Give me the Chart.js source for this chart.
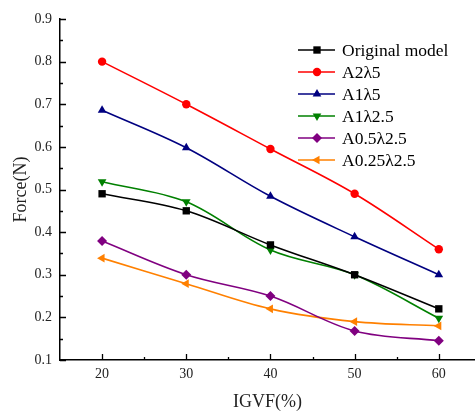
<!DOCTYPE html>
<html>
<head>
<meta charset="utf-8">
<script src="https://cdn.jsdelivr.net/npm/chart.js@4/dist/chart.umd.min.js"></script>
<style>
  html, body { margin: 0; padding: 0; background: #fff; overflow: hidden; }
  #wrap { width: 475px; height: 413px; position: relative; }
</style>
</head>
<body>
<div id="wrap"><canvas id="grafico"></canvas></div>
<script>
// IGVF (%) on the x axis
const igvf = [20, 30, 40, 50, 60];
const xTicks = [20, 30, 40, 50, 60];
const yTicks = [0.1, 0.2, 0.3, 0.4, 0.5, 0.6, 0.7, 0.8, 0.9];

// Force (N) per model
const originalModel = [0.49, 0.45, 0.37, 0.30, 0.22];
const a2l5 = [0.80, 0.70, 0.595, 0.49, 0.36];
const a1l5 = [0.686, 0.598, 0.484, 0.389, 0.30];
const a1l25 = [0.518, 0.471, 0.358, 0.30, 0.198];
const a05l25 = [0.379, 0.30, 0.25, 0.168, 0.145];
const a025l25 = [0.339, 0.279, 0.22, 0.19, 0.18];

const serif = '"Times New Roman", "Liberation Serif", serif';

function serie(label, values, color, style, rotation, radius) {
  return {
    label: label,
    data: values.map((v, i) => ({ x: igvf[i], y: v })),
    borderColor: color,
    backgroundColor: color,
    borderWidth: 1.6,
    pointStyle: style,
    rotation: rotation,
    pointRadius: radius,
    pointHoverRadius: radius,
    pointBorderWidth: 0,
    tension: 0.35
  };
}

const series = [
  serie('Original model', originalModel, '#000000', 'rect', 0, 5.2),
  serie('A2λ5', a2l5, '#ff0000', 'circle', 0, 4.2),
  serie('A1λ5', a1l5, '#000080', 'triangle', 0, 5),
  serie('A1λ2.5', a1l25, '#008000', 'triangle', 180, 5),
  serie('A0.5λ2.5', a05l25, '#800080', 'rectRot', 0, 5),
  serie('A0.25λ2.5', a025l25, '#ff8000', 'triangle', 270, 5)
];

// inward tick marks (major + minor)
const tickMarks = {
  id: 'tickMarks',
  afterDraw(chart) {
    const { ctx, chartArea, scales } = chart;
    ctx.save();
    ctx.strokeStyle = '#000';
    ctx.lineWidth = 1.3;
    ctx.beginPath();
    for (let v = 20; v <= 60; v += 5) {
      const x = Math.round(scales.x.getPixelForValue(v)) + 0.5;
      const len = v % 10 === 0 ? 6 : 3;
      ctx.moveTo(x, chartArea.bottom);
      ctx.lineTo(x, chartArea.bottom - len);
    }
    for (let i = 0; i <= 16; i++) {
      const v = 0.1 + i * 0.05;
      const y = Math.round(scales.y.getPixelForValue(v)) + 0.5;
      const len = i % 2 === 0 ? 6 : 3;
      ctx.moveTo(chartArea.left, y);
      ctx.lineTo(chartArea.left + len, y);
    }
    ctx.stroke();
    ctx.restore();
  }
};

// legend with line + marker, top right
const legendaLinhas = {
  id: 'legendaLinhas',
  afterDraw(chart) {
    const ctx = chart.ctx;
    ctx.save();
    ctx.font = '17.5px ' + serif;
    ctx.textBaseline = 'middle';
    chart.data.datasets.forEach((ds, i) => {
      const y = 50 + i * 22;
      ctx.strokeStyle = ds.borderColor;
      ctx.fillStyle = ds.backgroundColor;
      ctx.lineWidth = 1.6;
      ctx.beginPath();
      ctx.moveTo(298, y);
      ctx.lineTo(335, y);
      ctx.stroke();
      Chart.helpers.drawPoint(ctx, {
        pointStyle: ds.pointStyle,
        rotation: ds.rotation,
        radius: ds.pointRadius,
        borderWidth: 0
      }, 317, y);
      ctx.fillStyle = '#000';
      ctx.fillText(ds.label, 342, y + 1);
    });
    ctx.restore();
  }
};

new Chart(document.getElementById('grafico'), {
  type: 'line',
  data: { datasets: series },
  options: {
    responsive: true,
    maintainAspectRatio: false,
    animation: false,
    layout: {
      autoPadding: false,
      padding: { top: 19, right: 0, left: 0, bottom: 0 }
    },
    plugins: {
      legend: { display: false },
      tooltip: { enabled: false }
    },
    scales: {
      x: {
        type: 'linear',
        min: 15,
        max: 64.3,
        afterBuildTicks: scale => { scale.ticks = xTicks.map(v => ({ value: v })); },
        afterFit: scale => {
          scale.height = 53;
          scale.paddingLeft = 0;
          scale.paddingRight = 0;
        },
        grid: { display: false, drawTicks: false },
        border: { display: true, color: '#000', width: 1.5 },
        ticks: {
          padding: 6,
          color: '#222',
          font: { family: serif, size: 14 }
        },
        title: {
          display: true,
          text: 'IGVF(%)',
          color: '#222',
          font: { family: serif, size: 18 },
          padding: { top: 4, bottom: 0 }
        }
      },
      y: {
        min: 0.1,
        max: 0.9,
        afterBuildTicks: scale => { scale.ticks = yTicks.map(v => ({ value: v })); },
        afterFit: scale => {
          scale.width = 60;
          scale.paddingTop = 0;
          scale.paddingBottom = 0;
        },
        grid: { display: false, drawTicks: false },
        border: { display: true, color: '#000', width: 1.5 },
        ticks: {
          padding: 8,
          color: '#222',
          font: { family: serif, size: 14 },
          callback: v => v.toFixed(1)
        },
        title: {
          display: true,
          text: 'Force(N)',
          color: '#222',
          font: { family: serif, size: 18 },
          padding: { top: 10, bottom: 0 }
        }
      }
    }
  },
  plugins: [tickMarks, legendaLinhas]
});
</script>
</body>
</html>
